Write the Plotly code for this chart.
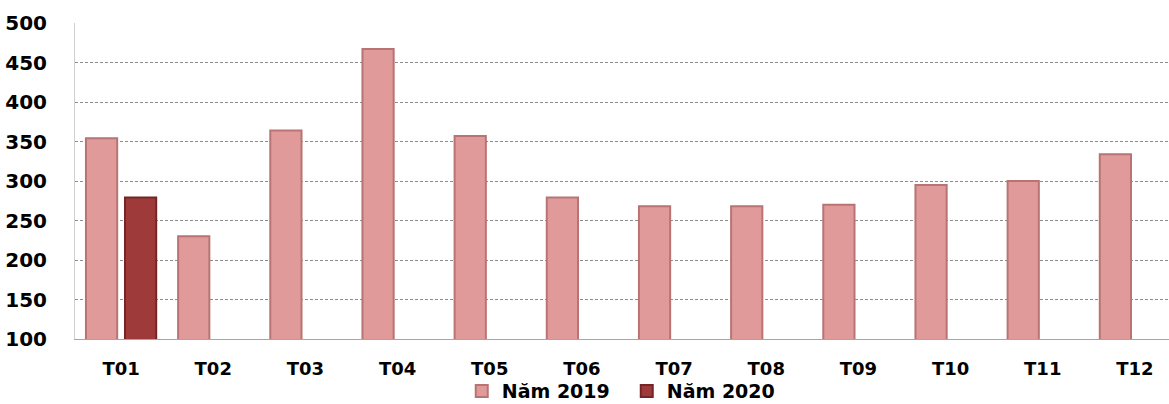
import plotly.graph_objects as go

months = ["T01", "T02", "T03", "T04", "T05", "T06",
          "T07", "T08", "T09", "T10", "T11", "T12"]
values_2019 = [354, 230, 364, 467, 357, 279, 268, 268, 270, 295, 300, 334]
months_2020 = ["T01"]
values_2020 = [279]
y_ticks = [100, 150, 200, 250, 300, 350, 400, 450, 500]

fig = go.Figure()
fig.add_trace(go.Bar(
    name="Năm 2019", x=months, y=values_2019,
    marker=dict(color="#E19A9A", line=dict(color="#B87474", width=2)),
))
fig.add_trace(go.Bar(
    name="Năm 2020", x=months_2020, y=values_2020,
    marker=dict(color="#9E3A3A", line=dict(color="#742626", width=2)),
))

fig.update_layout(
    width=1169, height=404,
    margin=dict(l=75, r=0, t=23, b=65, autoexpand=False),
    paper_bgcolor="white", plot_bgcolor="white",
    barmode="group", bargap=0.153, bargroupgap=0.2,
    font=dict(family="DejaVu Sans, sans-serif", color="black"),
    legend=dict(
        orientation="h", xref="container", yref="container",
        x=0.395, xanchor="left", y=0.032, yanchor="middle",
        font=dict(family="DejaVu Sans", size=19, weight="bold", color="black"),
        itemwidth=30, entrywidth=120, bgcolor="rgba(0,0,0,0)",
    ),
    showlegend=True,
)
fig.update_xaxes(
    categoryorder="array", categoryarray=months,
    range=[-0.5, 11.37],
    showline=True, linecolor="#A6A6A6", linewidth=1,
    ticks="", ticklabelstandoff=13,
    tickfont=dict(family="DejaVu Sans", size=18, weight="bold"),
    showgrid=False,
)
fig.update_yaxes(
    range=[100, 500], tickvals=y_ticks,
    showline=True, linecolor="#D0D0D0", linewidth=1, mirror=True,
    showgrid=True, gridcolor="#8C8C8C", gridwidth=1, griddash="3px,2px",
    ticks="", ticklabelstandoff=23,
    tickfont=dict(family="DejaVu Sans", size=20, weight="bold"),
    zeroline=False,
)

fig.write_html("out.html")
